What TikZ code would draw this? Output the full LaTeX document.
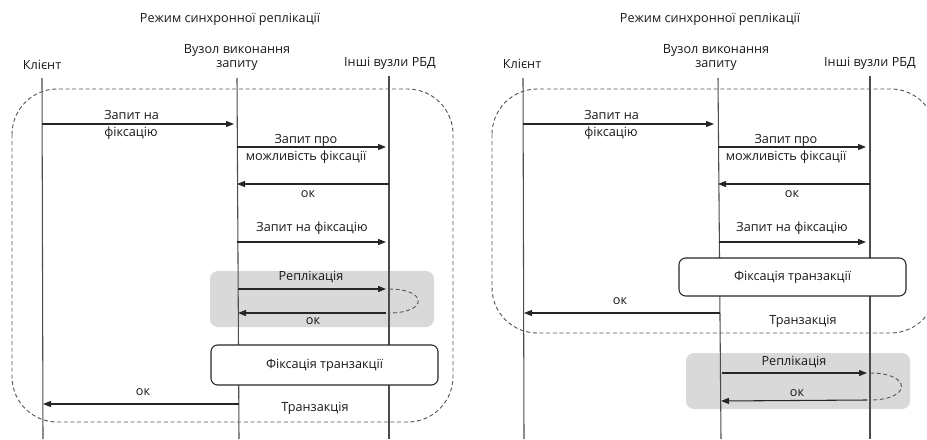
\documentclass[tikz,border=0pt]{standalone}
\usepackage{fontspec}
\setmainfont{Open Sans}
\usetikzlibrary{arrows.meta}
\begin{document}
\begin{tikzpicture}[x=0.75pt,y=-0.75pt,
  font=\fontsize{9.5}{11.2}\selectfont, text=black!90,
  life/.style={draw=black!70, line width=0.8pt},
  msg/.style={draw=black!85, line width=0.8pt, -{Triangle[length=6pt,width=4.5pt]}},
  lbl/.style={inner sep=0pt, align=center},
  frame/.style={draw=black!65, dash pattern=on 3pt off 2pt, rounded corners=34pt, line width=0.7pt},
  loop/.style={draw=black!65, dash pattern=on 3pt off 2pt, line width=0.7pt},
  grp/.style={fill=black!15, rounded corners=6pt},
  act/.style={draw=black!85, fill=white, rounded corners=5pt, line width=0.8pt, inner sep=0pt}]
\useasboundingbox (0,0) rectangle (927,439);
\clip (0,0) rectangle (927,439);

% ================= LEFT =================
\node[lbl] (Ltitle) at (230,19) {Режим синхронної реплікації};
\node[lbl] (Lcl) at (42,65) {Клієнт};
\node[lbl] (Lnode) at (237,57.5) {Вузол виконання\\запиту};
\node[lbl] (Lrbd) at (390,63) {Інші вузли РБД};

\fill[grp] (210,271) rectangle (434,327);
\draw[frame] (12,89) rectangle (453,422);

\coordinate (LclT) at (42,78);   \coordinate (LclB) at (43,439);
\coordinate (LndT) at (237,78);  \coordinate (LndB) at (239,439);
\coordinate (LrbT) at (389,76);  \coordinate (LrbB) at (389,439);
\draw[life] (LclT) -- (LclB);
\draw[life] (LndT) -- (LndB);
\draw[life] (LrbT) -- (LrbB);

% messages
\coordinate (La1) at (42,124);  \coordinate (Lb1) at (234,124);
\coordinate (La2) at (237,147); \coordinate (Lb2) at (386,147);
\coordinate (La3) at (389,184); \coordinate (Lb3) at (237,184);
\coordinate (La4) at (237,242); \coordinate (Lb4) at (386,242);
\coordinate (La5) at (238,289); \coordinate (Lb5) at (386,289);
\coordinate (Lr5) at (389,289); \coordinate (Lr6) at (389,313);
\coordinate (La6) at (386,313); \coordinate (Lb6) at (238,313);
\coordinate (La7) at (239,404); \coordinate (Lb7) at (43,404);
\draw[msg] (La1) -- (Lb1);
\draw[msg] (La2) -- (Lb2);
\draw[msg] (La3) -- (Lb3);
\draw[msg] (La4) -- (Lb4);
\draw[msg] (La5) -- (Lb5);
\draw[loop] (Lr5) .. controls (428,289) and (428,313) .. (Lr6);
\draw[msg] (La6) -- (Lb6);
\draw[msg] (La7) -- (Lb7);

\node[act, minimum width=170.25pt, minimum height=30pt] (Lfix) at (324.5,365) {Фіксація транзакції};

\node[lbl, anchor=west] (Ll1a) at (104,115) {Запит на};
\node[lbl, anchor=west] (Ll1b) at (104,133) {фіксацію};
\node[lbl] (Ll2a) at (306,140) {Запит про};
\node[lbl] (Ll2b) at (306,157) {можливість фіксації};
\node[lbl] (Ll3) at (308,194) {ок};
\node[lbl] (Ll4) at (312,228) {Запит на фіксацію};
\node[lbl] (Ll5) at (311,277) {Реплікація};
\node[lbl] (Ll6) at (313,321) {ок};
\node[lbl] (Ll7) at (143,392) {ок};
\node[lbl] (Ll8) at (315,408) {Транзакція};

% ================= RIGHT =================
\node[lbl] (Rtitle) at (710,19) {Режим синхронної реплікації};
\node[lbl] (Rcl) at (522,64) {Клієнт};
\node[lbl] (Rnode) at (716,57.5) {Вузол виконання\\запиту};
\node[lbl] (Rrbd) at (870,63) {Інші вузли РБД};

\fill[grp] (686,353) rectangle (910,409);
\draw[frame] (492,89) rectangle (936,333);

\coordinate (RclT) at (523,78);  \coordinate (RclB) at (524,439);
\coordinate (RndT) at (718,78);  \coordinate (RndB) at (721,439);
\coordinate (RrbT) at (870,76);  \coordinate (RrbB) at (870,439);
\draw[life] (RclT) -- (RclB);
\draw[life] (RndT) -- (RndB);
\draw[life] (RrbT) -- (RrbB);

\coordinate (Ra1) at (523,124); \coordinate (Rb1) at (714,124);
\coordinate (Ra2) at (718,147); \coordinate (Rb2) at (866,147);
\coordinate (Ra3) at (870,184); \coordinate (Rb3) at (718,184);
\coordinate (Ra4) at (719,242); \coordinate (Rb4) at (866,242);
\coordinate (Ra5) at (720,313); \coordinate (Rb5) at (524,313);
\coordinate (Ra6) at (722,373); \coordinate (Rb6) at (867,373);
\coordinate (Rr6) at (870,373); \coordinate (Rr7) at (870,400);
\coordinate (Ra7) at (867,400); \coordinate (Rb7) at (721,401);
\draw[msg] (Ra1) -- (Rb1);
\draw[msg] (Ra2) -- (Rb2);
\draw[msg] (Ra3) -- (Rb3);
\draw[msg] (Ra4) -- (Rb4);
\draw[msg] (Ra5) -- (Rb5);
\draw[msg] (Ra6) -- (Rb6);
\draw[loop] (Rr6) .. controls (912,373) and (912,400) .. (Rr7);
\draw[msg] (Ra7) -- (Rb7);

\node[act, minimum width=170.25pt, minimum height=28.5pt] (Rfix) at (792.5,277) {Фіксація транзакції};

\node[lbl, anchor=west] (Rl1a) at (584,115) {Запит на};
\node[lbl, anchor=west] (Rl1b) at (584,133) {фіксацію};
\node[lbl] (Rl2a) at (786,140) {Запит про};
\node[lbl] (Rl2b) at (786,157) {можливість фіксації};
\node[lbl] (Rl3) at (792,194) {ок};
\node[lbl] (Rl4) at (792,228) {Запит на фіксацію};
\node[lbl] (Rl5) at (620,301) {ок};
\node[lbl] (Rl6) at (803,321) {Транзакція};
\node[lbl] (Rl7) at (794,362) {Реплікація};
\node[lbl] (Rl8) at (797,393) {ок};
\end{tikzpicture}
\end{document}
